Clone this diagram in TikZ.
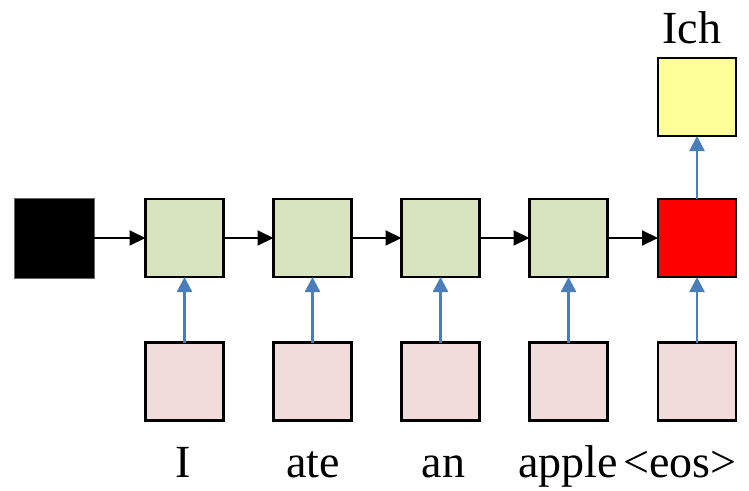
\documentclass[tikz,border=0pt]{standalone}
\usepackage{fontspec}
\setmainfont{Liberation Serif}
\usetikzlibrary{arrows.meta}
\definecolor{cgreen}{HTML}{D7E4BD}
\definecolor{cpink}{HTML}{F2DCDB}
\definecolor{cyellow}{HTML}{FFFF99}
\definecolor{cred}{HTML}{FF0000}
\definecolor{cblue}{HTML}{4A7EBB}
\tikzset{
  cell/.style={draw=black, line width=2.6pt, minimum width=78pt, minimum height=78pt, inner sep=0pt, outer sep=0pt},
  harr/.style={draw=black, line width=2pt, -{Triangle[length=16pt,width=15pt]}},
  varr/.style={draw=cblue, line width=2.4pt, -{Triangle[length=15pt,width=15pt]}},
  word/.style={font=\fontsize{46}{50}\selectfont, inner sep=0pt, anchor=base}
}
\begin{document}
\begin{tikzpicture}[x=1pt,y=-1pt]
\useasboundingbox (0,0) rectangle (749,490);
\node[cell, fill=black, draw=black!60, line width=1pt, minimum width=80pt, minimum height=80pt] (s) at (54,238) {};
\node[cell, fill=cgreen] (g1) at (184.5,238) {};
\node[cell, fill=cgreen] (g2) at (312.5,238) {};
\node[cell, fill=cgreen] (g3) at (440.5,238) {};
\node[cell, fill=cgreen] (g4) at (568.5,238) {};
\node[cell, fill=cred] (r) at (697,238) {};
\node[cell, fill=cyellow] (y) at (697,97) {};
\node[cell, fill=cpink] (p1) at (184.5,381.5) {};
\node[cell, fill=cpink] (p2) at (312.5,381.5) {};
\node[cell, fill=cpink] (p3) at (440.5,381.5) {};
\node[cell, fill=cpink] (p4) at (568.5,381.5) {};
\node[cell, fill=cpink] (p5) at (697,381.5) {};
\draw[harr] (s) -- (g1);
\draw[harr] (g1) -- (g2);
\draw[harr] (g2) -- (g3);
\draw[harr] (g3) -- (g4);
\draw[harr] (g4) -- (r);
\draw[varr] (p1) -- (g1);
\draw[varr] (p2) -- (g2);
\draw[varr] (p3) -- (g3);
\draw[varr] (p4) -- (g4);
\draw[varr] (p5) -- (r);
\draw[varr] (r) -- (y);
\node[word] (t0) at (692,43) {Ich};
\node[word] (t1) at (183.5,477) {I};
\node[word] (t2) at (313,477) {ate};
\node[word] (t3) at (443.5,477) {an};
\node[word] (t4) at (568,477) {apple};
\node[word] (t5) at (680,477) {<eos>};
\end{tikzpicture}
\end{document}
